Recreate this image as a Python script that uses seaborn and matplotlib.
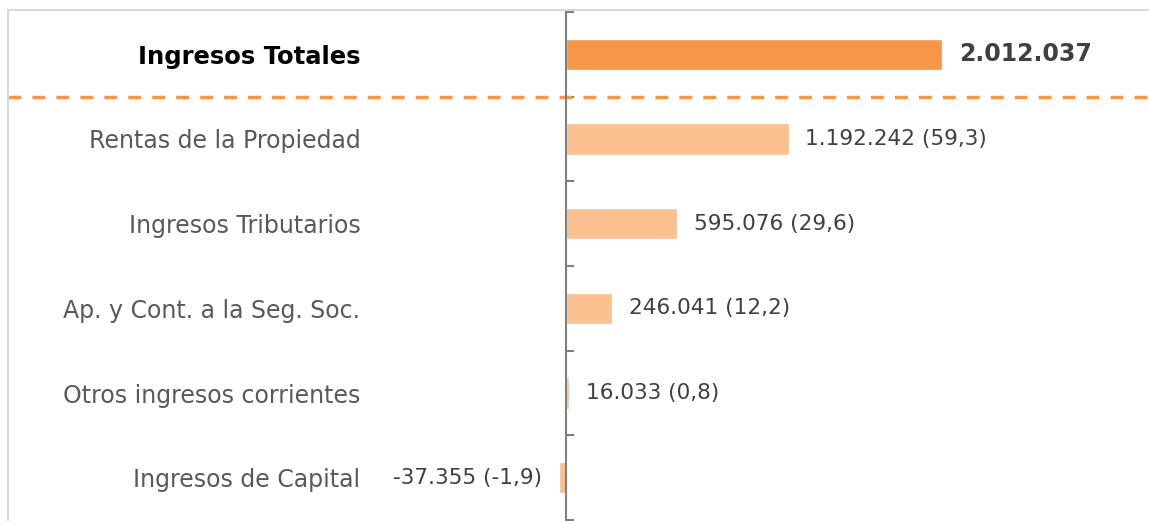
import numpy as np
import pandas as pd
import matplotlib.pyplot as plt
from matplotlib.lines import Line2D
import seaborn as sns

# datos (millones de pesos) y participacion (%)
categorias = ["Ingresos Totales", "Rentas de la Propiedad", "Ingresos Tributarios",
              "Ap. y Cont. a la Seg. Soc.", "Otros ingresos corrientes", "Ingresos de Capital"]
valores = [2012037, 1192242, 595076, 246041, 16033, -37355]
porcentajes = [None, 59.3, 29.6, 12.2, 0.8, -1.9]

df = pd.DataFrame({"cat": categorias, "valor": valores})

naranja = "#F79646"
naranja_claro = "#FAC090"
gris_texto = "#595959"
gris_valor = "#404040"

sns.set_style("white")
plt.rcParams["font.family"] = ["DejaVu Sans"]

fig = plt.figure(figsize=(11.49, 5.21), dpi=100)
ax = fig.add_axes([8 / 1149, 0, (1149 - 8) / 1149, 510 / 521])

paleta = {c: (naranja if i == 0 else naranja_claro) for i, c in enumerate(categorias)}
sns.barplot(data=df, x="valor", y="cat", hue="cat", palette=paleta, orient="h",
            width=0.37, legend=False, saturation=1, ax=ax)

ppx = 2012037 / 376  # unidades por pixel
ax.set_xlim(-(566 - 8) * ppx, (1149 - 566) * ppx)
ax.set_ylim(5.51, -0.51)

for s in ["top", "right", "bottom"]:
    ax.spines[s].set_visible(False)
ax.spines["left"].set_position(("data", 0))
ax.spines["left"].set_color("#7f7f7f")
ax.spines["left"].set_linewidth(1.5)

ax.set_xticks([])
ax.set_xlabel("")
ax.set_ylabel("")

# ticks entre categorias, etiquetas en el centro
ax.set_yticks(np.arange(-0.5, 6.0, 1.0))
ax.set_yticklabels([])
ax.tick_params(axis="y", which="major", direction="in", length=6, width=1.5, color="#7f7f7f", left=True)
ax.set_yticks(np.arange(len(categorias)), minor=True)
ax.set_yticklabels(categorias, minor=True)
ax.tick_params(axis="y", which="minor", length=0, pad=148, labelsize=17, labelcolor=gris_texto)
for i, lab in enumerate(ax.get_yticklabels(minor=True)):
    if i == 0:
        lab.set_fontweight("bold")
        lab.set_color("black")
        lab.set_fontsize(17.5)

# etiquetas de valores
def fmt(v):
    return f"{v:,}".replace(",", ".")

etiquetas = []
for v, p in zip(valores, porcentajes):
    if p is None:
        etiquetas.append(fmt(v))
    else:
        etiquetas.append(f"{fmt(v)} ({p:.1f})".replace(f"({p:.1f})", f"({p:.1f})".replace(".", ",")))

for i, cont in enumerate(ax.containers):
    if i == 0:
        ax.bar_label(cont, labels=[etiquetas[i]], padding=12, fontsize=17, fontweight="bold", color=gris_valor)
    else:
        ax.bar_label(cont, labels=[etiquetas[i]], padding=12, fontsize=15.6, color=gris_valor)

# linea separadora punteada
ax.axhline(0.5, color=naranja, lw=2.5, ls=(0, (3.7, 3.2)), clip_on=False)

# marco gris claro (izquierda y arriba)
borde = dict(transform=fig.transFigure, color="#d9d9d9", lw=1.5)
fig.add_artist(Line2D([8 / 1149, 8 / 1149], [0, 1 - 10 / 521], **borde))
fig.add_artist(Line2D([8 / 1149, 1], [1 - 10 / 521, 1 - 10 / 521], **borde))

fig.savefig("out.png", dpi=100)
